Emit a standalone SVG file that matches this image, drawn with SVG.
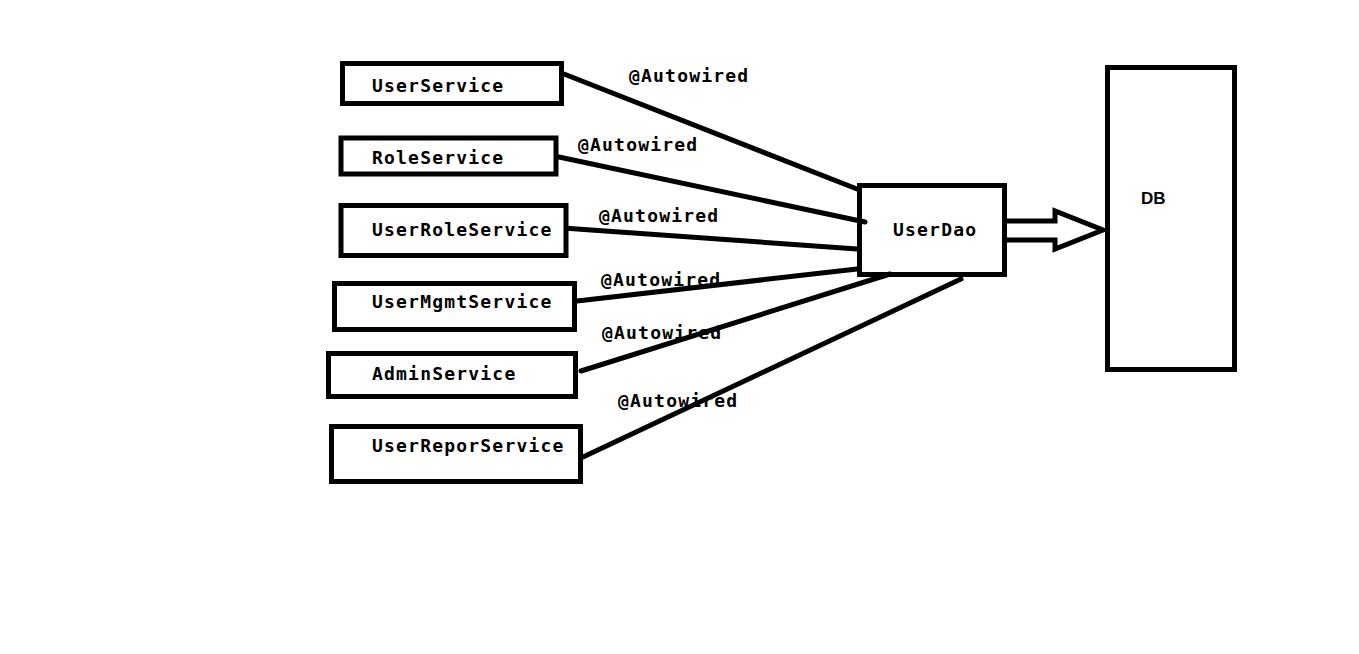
<svg xmlns="http://www.w3.org/2000/svg" width="1359" height="654" viewBox="0 0 1359 654">
<style>
.box{fill:#fff;stroke:#000;stroke-width:5}
.lbl{font-family:"DejaVu Sans Mono","Liberation Mono",monospace;font-weight:bold;font-size:18px;letter-spacing:1.2px;fill:#000}
.db{font-family:"Liberation Sans",Arial,sans-serif;font-weight:bold;font-size:17px;fill:#000}
.conn{stroke:#000;stroke-width:5;fill:none;stroke-linecap:round}
</style>
<rect width="1359" height="654" fill="#fff"/>
<g id="connectors">
<line class="conn" x1="564" y1="74" x2="857" y2="189"/>
<line class="conn" x1="559" y1="157" x2="865" y2="222"/>
<line class="conn" x1="563" y1="228" x2="857" y2="249"/>
<line class="conn" x1="577" y1="301" x2="857" y2="269"/>
<line class="conn" x1="581" y1="371" x2="890" y2="274"/>
<line class="conn" x1="583" y1="457" x2="961" y2="279"/>
<path id="arrow" d="M1007,221 L1055,221 L1055,211 L1103,230 L1055,249 L1055,240 L1007,240" fill="#fff" stroke="#000" stroke-width="5" stroke-linejoin="miter"/>
<text class="lbl" x="629" y="82">@Autowired</text>
<text class="lbl" x="578" y="151">@Autowired</text>
<text class="lbl" x="599" y="222">@Autowired</text>
<text class="lbl" x="601" y="286">@Autowired</text>
<text class="lbl" x="602" y="339">@Autowired</text>
<text class="lbl" x="618" y="407">@Autowired</text>
</g>
<g id="UserService"><rect class="box" x="342.5" y="63.5" width="219" height="40"/><text class="lbl" x="372" y="92">UserService</text></g>
<g id="RoleService"><rect class="box" x="341" y="138" width="215" height="36"/><text class="lbl" x="372" y="164">RoleService</text></g>
<g id="UserRoleService"><rect class="box" x="341" y="205.5" width="225" height="50"/><text class="lbl" x="372" y="236">UserRoleService</text></g>
<g id="UserMgmtService"><rect class="box" x="334.5" y="283.5" width="240" height="46"/><text class="lbl" x="372" y="308">UserMgmtService</text></g>
<g id="AdminService"><rect class="box" x="328.5" y="353.5" width="247" height="43"/><text class="lbl" x="372" y="380">AdminService</text></g>
<g id="UserReporService"><rect class="box" x="331.5" y="426.5" width="249" height="55"/><text class="lbl" x="372" y="452">UserReporService</text></g>
<g id="UserDao"><rect class="box" x="859.5" y="185.5" width="145" height="89" fill-opacity="0"/><text class="lbl" x="893" y="236">UserDao</text></g>
<g id="DB"><rect class="box" x="1107.5" y="67.5" width="127" height="302"/><text class="db" x="1141" y="204">DB</text></g>
</svg>
